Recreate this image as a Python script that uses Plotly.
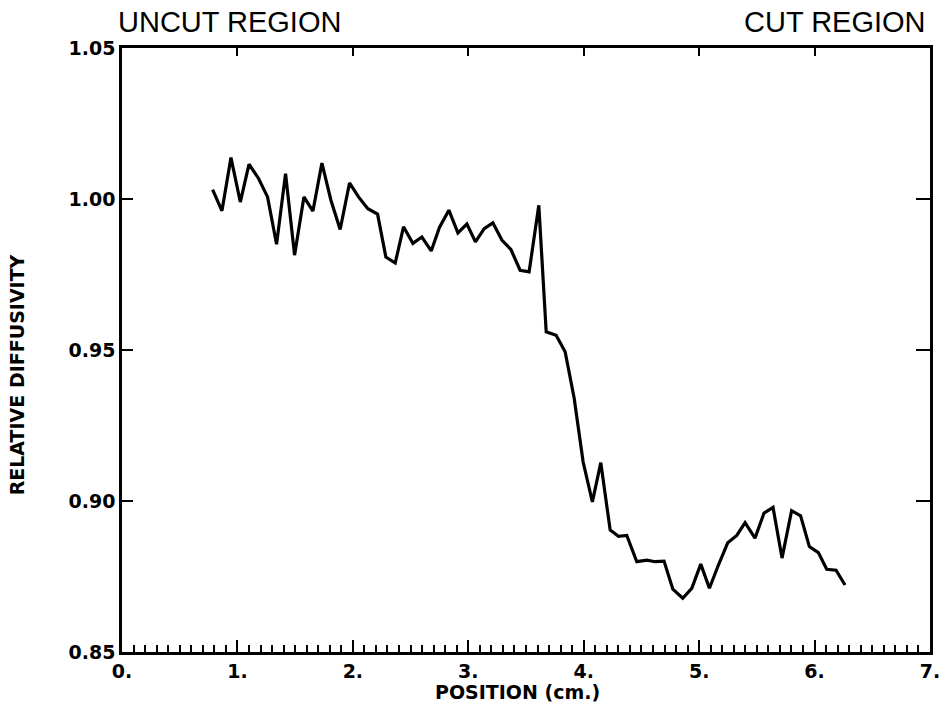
import plotly.graph_objects as go

# Position (cm.)
position = [0.785, 0.866, 0.944, 1.025, 1.100, 1.183, 1.261, 1.339, 1.417, 1.495,
            1.576, 1.654, 1.732, 1.810, 1.890, 1.971, 2.049, 2.130, 2.214, 2.286,
            2.367, 2.439, 2.520, 2.598, 2.679, 2.750, 2.832, 2.910, 2.988, 3.062,
            3.138, 3.213, 3.291, 3.369, 3.449, 3.527, 3.611, 3.675, 3.761, 3.839,
            3.917, 3.995, 4.075, 4.148, 4.229, 4.301, 4.373, 4.460, 4.547, 4.619,
            4.696, 4.772, 4.858, 4.936, 5.014, 5.089, 5.167, 5.248, 5.326, 5.398,
            5.484, 5.562, 5.640, 5.718, 5.801, 5.879, 5.955, 6.033, 6.105, 6.186,
            6.264]

# Relative diffusivity
diffusivity = [1.0031, 0.9961, 1.0137, 0.9990, 1.0115, 1.0068, 1.0007, 0.9850, 1.0084, 0.9814,
               1.0007, 0.9960, 1.0119, 0.9996, 0.9899, 1.0053, 1.0007, 0.9968, 0.9950, 0.9808,
               0.9788, 0.9908, 0.9853, 0.9874, 0.9828, 0.9906, 0.9963, 0.9888, 0.9917, 0.9858,
               0.9902, 0.9921, 0.9864, 0.9833, 0.9764, 0.9759, 0.9979, 0.9560, 0.9549, 0.9494,
               0.9341, 0.9129, 0.8997, 0.9127, 0.8904, 0.8883, 0.8886, 0.8799, 0.8804, 0.8799,
               0.8801, 0.8708, 0.8678, 0.8711, 0.8791, 0.8711, 0.8788, 0.8862, 0.8886, 0.8928,
               0.8877, 0.8960, 0.8979, 0.8811, 0.8968, 0.8951, 0.8849, 0.8829, 0.8774, 0.8771,
               0.8722]

x_tickvals = [0, 1, 2, 3, 4, 5, 6, 7]
x_ticktext = ["0.", "1.", "2.", "3.", "4.", "5.", "6.", "7."]
y_tickvals = [0.85, 0.90, 0.95, 1.00, 1.05]
y_ticktext = ["0.85", "0.90", "0.95", "1.00", "1.05"]

left_title = "UNCUT REGION"
right_title = "CUT REGION"
x_title = "POSITION (cm.)"
y_title = "RELATIVE DIFFUSIVITY"

tickfont = dict(family="DejaVu Sans", size=19, color="black", weight="bold")

fig = go.Figure()
fig.add_trace(go.Scatter(x=position, y=diffusivity, mode="lines",
                         line=dict(color="black", width=3.2), showlegend=False))
# invisible companion trace so the top/right frame axes are drawn
fig.add_trace(go.Scatter(x=position, y=diffusivity, mode="lines", xaxis="x2", yaxis="y2",
                         line=dict(color="rgba(0,0,0,0)", width=0), showlegend=False,
                         hoverinfo="skip"))

fig.update_layout(
    width=939, height=710,
    margin=dict(l=122, r=9, t=48, b=58, autoexpand=False),
    paper_bgcolor="white", plot_bgcolor="white",
    xaxis=dict(range=[0, 7], tickvals=x_tickvals, ticktext=x_ticktext,
               ticks="inside", ticklen=12, tickwidth=2, tickcolor="black",
               minor=dict(dtick=0.1, ticks="inside", ticklen=7, tickwidth=1.5, tickcolor="black"),
               showline=True, linecolor="black", linewidth=2.5,
               showgrid=False, zeroline=False, tickfont=tickfont,
               ticklabeloverflow="allow", automargin=False),
    yaxis=dict(range=[0.85, 1.05], tickvals=y_tickvals, ticktext=y_ticktext,
               ticks="inside", ticklen=11, tickwidth=2, tickcolor="black",
               showline=True, linecolor="black", linewidth=2.5,
               showgrid=False, zeroline=False, tickfont=tickfont,
               ticklabeloverflow="allow", automargin=False),
    xaxis2=dict(range=[0, 7], overlaying="x", side="top", tickvals=x_tickvals,
                ticks="inside", ticklen=8, tickwidth=2, tickcolor="black",
                showticklabels=False, showline=True, linecolor="black", linewidth=2.5,
                showgrid=False, zeroline=False, automargin=False),
    yaxis2=dict(range=[0.85, 1.05], overlaying="y", side="right", tickvals=y_tickvals,
                ticks="inside", ticklen=14, tickwidth=2, tickcolor="black",
                showticklabels=False, showline=True, linecolor="black", linewidth=2.5,
                showgrid=False, zeroline=False, automargin=False),
    annotations=[
        dict(text=left_title, xref="paper", yref="paper", x=-0.007, y=1, xanchor="left",
             yanchor="middle", yshift=26, showarrow=False,
             font=dict(family="Liberation Sans", size=29, color="black")),
        dict(text=right_title, xref="paper", yref="paper", x=0.998, y=1, xanchor="right",
             yanchor="middle", yshift=26, showarrow=False,
             font=dict(family="Liberation Sans", size=29, color="black")),
        dict(text=x_title, xref="paper", yref="paper", x=0.489, y=0, xanchor="center",
             yanchor="middle", yshift=-40, showarrow=False,
             font=dict(family="DejaVu Sans", size=19, color="black", weight="bold")),
        dict(text=y_title, xref="paper", yref="paper", x=0, y=0.458, xanchor="center",
             yanchor="middle", xshift=-105, textangle=-90, showarrow=False,
             font=dict(family="DejaVu Sans", size=19, color="black", weight="bold")),
    ],
)

fig.write_html("out.html")
